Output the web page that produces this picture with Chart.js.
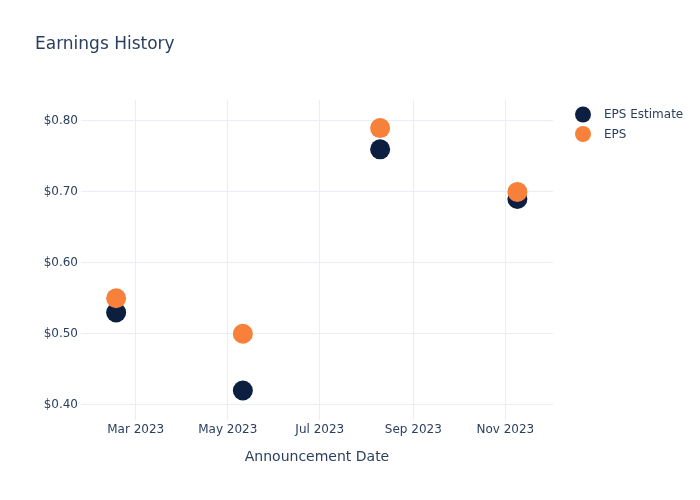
<!DOCTYPE html>
<html>
<head>
<meta charset="utf-8">
<script src="https://cdn.jsdelivr.net/npm/chart.js@4.4.0/dist/chart.umd.min.js"></script>
<style>
  body { margin: 0; background: #fff; }
</style>
</head>
<body>
<canvas id="epsChart" width="700" height="500"></canvas>
<script>
// announcement dates (UTC) and values
const announceDates = ['2023-02-16', '2023-05-11', '2023-08-10', '2023-11-09'];
const epsEstimate = [0.53, 0.42, 0.76, 0.69];
const epsActual = [0.55, 0.50, 0.79, 0.70];

const xTickDates = ['2023-03-01', '2023-05-01', '2023-07-01', '2023-09-01', '2023-11-01'];
const xTickLabels = ['Mar 2023', 'May 2023', 'Jul 2023', 'Sep 2023', 'Nov 2023'];
const yTickValues = [0.4, 0.5, 0.6, 0.7, 0.8];
const yTickLabels = ['$0.40', '$0.50', '$0.60', '$0.70', '$0.80'];

const FONT = "'DejaVu Sans', sans-serif";
const TEXT = '#2a3f5f';
const GRID = '#e9eef6';

const ms = d => Date.parse(d + 'T00:00:00Z');
const DAY = 86400000;

const toPoints = vals => announceDates.map((d, i) => ({ x: ms(d), y: vals[i] }));

// title + legend drawn on the canvas, plotly style
const extras = {
  id: 'extras',
  afterDraw(chart) {
    const ctx = chart.ctx;
    ctx.save();
    ctx.fillStyle = TEXT;
    ctx.textBaseline = 'middle';
    ctx.font = '17px ' + FONT;
    ctx.fillText('Earnings History', 35, 45);

    ctx.font = '12px ' + FONT;
    chart.data.datasets.forEach((ds, i) => {
      const y = 114.5 + i * 19.5;
      ctx.beginPath();
      ctx.arc(583, y, 8, 0, Math.PI * 2);
      ctx.fillStyle = ds.backgroundColor;
      ctx.fill();
      ctx.fillStyle = TEXT;
      ctx.fillText(ds.label, 604, y + 0.5);
    });
    ctx.restore();
  }
};

const ctx = document.getElementById('epsChart').getContext('2d');

new Chart(ctx, {
  type: 'scatter',
  data: {
    datasets: [
      {
        label: 'EPS Estimate',
        data: toPoints(epsEstimate),
        backgroundColor: '#0c1f40',
        borderWidth: 0,
        pointRadius: 10,
        pointHoverRadius: 10,
        order: 1
      },
      {
        label: 'EPS',
        data: toPoints(epsActual),
        backgroundColor: '#f7813a',
        borderWidth: 0,
        pointRadius: 10,
        pointHoverRadius: 10,
        order: 0
      }
    ]
  },
  options: {
    responsive: false,
    animation: false,
    layout: { padding: { top: 100, right: 147, bottom: 0, left: 0 } },
    plugins: {
      legend: { display: false },
      title: { display: false },
      tooltip: { enabled: false }
    },
    scales: {
      x: {
        type: 'linear',
        min: ms('2023-03-01') - 36.3 * DAY,
        max: ms('2023-03-01') + 276.6 * DAY,
        afterBuildTicks: scale => {
          scale.ticks = xTickDates.map(d => ({ value: ms(d) }));
        },
        afterFit: scale => { scale.height = 80; },
        grid: { color: GRID, drawTicks: false },
        border: { display: false },
        ticks: {
          padding: 3,
          maxRotation: 0,
          autoSkip: false,
          color: TEXT,
          font: { family: FONT, size: 12 },
          callback: v => xTickLabels[xTickDates.findIndex(d => ms(d) === v)]
        },
        title: {
          display: true,
          text: 'Announcement Date',
          color: TEXT,
          font: { family: FONT, size: 14 },
          padding: { top: 0, bottom: 34.5 }
        }
      },
      y: {
        min: 0.3784,
        max: 0.8296,
        afterBuildTicks: scale => {
          scale.ticks = yTickValues.map(v => ({ value: v }));
        },
        afterFit: scale => { scale.width = 81; },
        grid: { color: GRID, drawTicks: false },
        border: { display: false },
        ticks: {
          padding: 3,
          color: TEXT,
          font: { family: FONT, size: 12 },
          callback: v => yTickLabels[yTickValues.findIndex(t => Math.abs(t - v) < 1e-9)]
        }
      }
    }
  },
  plugins: [extras]
});
</script>
</body>
</html>
